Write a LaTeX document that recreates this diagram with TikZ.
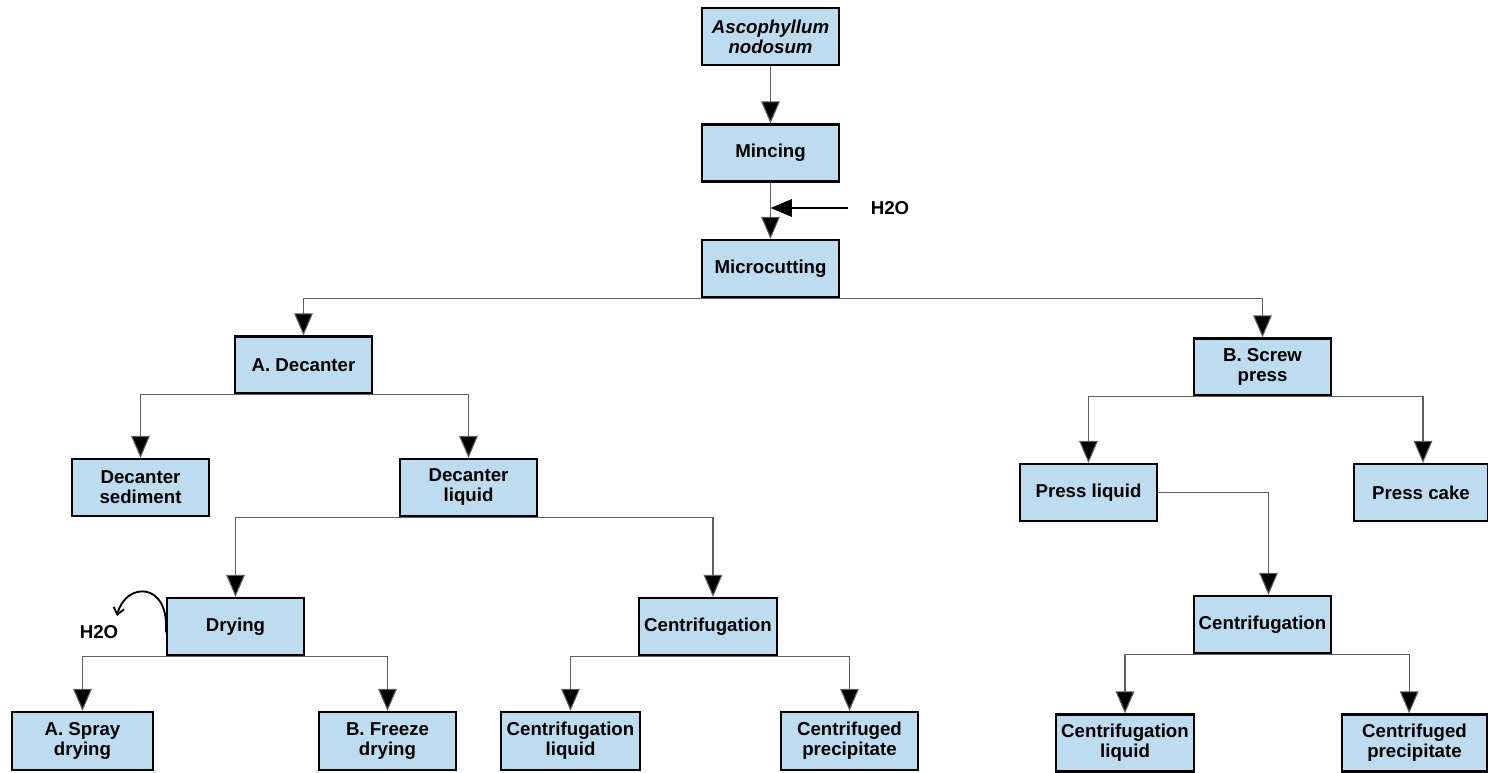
\documentclass[tikz,border=0pt]{standalone}
\usepackage{fontspec}
\setmainfont{Liberation Sans}
\usetikzlibrary{arrows.meta}
\definecolor{boxfill}{RGB}{189,220,240}
\definecolor{linkgray}{RGB}{95,95,95}
\tikzset{
  stage/.style={draw=black, line width=1.7pt, fill=boxfill, align=center,
    font=\bfseries\fontsize{14}{15}\selectfont, inner sep=0pt,
    minimum width=102.75pt, minimum height=42.75pt},
  link/.style={draw=linkgray, line width=0.8pt,
    -{Triangle[length=16.5pt,width=14pt,fill=black]}},
  feed/.style={draw=black, line width=1.5pt,
    -{Triangle[length=16pt,width=13pt]}},
  vapour/.style={draw=black, line width=1.4pt, -{Straight Barb[length=5pt,width=8pt]}},
  tag/.style={font=\bfseries\fontsize{14}{15}\selectfont, inner sep=0pt}
}
\begin{document}
\begin{tikzpicture}[x=0.75pt, y=-0.75pt]
\useasboundingbox (0,0) rectangle (1488,772);

% main line
\node[stage] (asc)   at (770.5,36.5) {\itshape Ascophyllum\\\itshape nodosum};
\node[stage] (mince) at (770.5,153)  {Mincing};
\node[stage] (micro) at (770.5,268.5) {Microcutting};

% A: decanter branch
\node[stage] (decA)  at (303.5,365)   {A. Decanter};
\node[stage] (sed)   at (140.5,487.5) {Decanter\\sediment};
\node[stage] (liq)   at (468.5,487.5) {Decanter\\liquid};
\node[stage] (dry)   at (235.5,626.5) {Drying};
\node[stage, minimum width=103.5pt] (cenL) at (708,626.5) {Centrifugation};
\node[stage, minimum width=105.75pt, minimum height=43.5pt] (spray) at (82.5,741) {A. Spray\\drying};
\node[stage, minimum height=43.5pt] (freeze) at (387.5,741) {B. Freeze\\drying};
\node[stage, minimum width=104.25pt, minimum height=43.5pt] (cliqL) at (570.5,741) {Centrifugation\\liquid};
\node[stage, minimum height=43.5pt] (cprecL) at (849.5,741) {Centrifuged\\precipitate};

% B: screw press branch
\node[stage] (screw) at (1262.5,367) {B. Screw\\press};
\node[stage] (pliq)  at (1088.5,492.5) {Press liquid};
\node[stage, minimum width=100.5pt] (cake) at (1421,492.5) {Press cake};
\node[stage] (cenR)  at (1262.5,624.5) {Centrifugation};
\node[stage, minimum width=103.5pt] (cliqR) at (1125,743) {Centrifugation\\liquid};
\node[stage, minimum width=108.75pt] (cprecR) at (1414.5,743) {Centrifuged\\precipitate};

% water inputs / outputs
\node[tag] (water)  at (890,208) {H2O};
\node[tag] (steam)  at (99,632)  {H2O};
\coordinate (steamtip) at (117,616);

% connectors
\draw[link] (asc) -- (mince);
\draw[link] (mince) -- (micro);
\draw[feed] ([xshift=-17pt]water.west) -- (water.west -| mince.south);

\draw[link] (micro.south) -| (decA.north);
\draw[link] (micro.south) -| (screw.north);

\draw[link] (decA.south) -| (sed.north);
\draw[link] (decA.south) -| (liq.north);
\draw[link] (liq.south) -| (dry.north);
\draw[link] (liq.south) -| ([xshift=3.75pt]cenL.north);
\draw[link] (dry.south) -| (spray.north);
\draw[link] (dry.south) -| (freeze.north);
\draw[link] (cenL.south) -| (cliqL.north);
\draw[link] (cenL.south) -| (cprecL.north);

\draw[link] (screw.south) -| (pliq.north);
\draw[link] (screw.south) -| ([xshift=1.5pt]cake.north);
\draw[link] (pliq.east) -| ([xshift=4.5pt]cenR.north);
\draw[link] (cenR.south) -| (cliqR.north);
\draw[link] (cenR.south) -| ([xshift=-4pt]cprecR.north);

\draw[vapour] ([yshift=-4.5pt]dry.west) .. controls +(4,-52) and +(8,-34) .. (steamtip);
\end{tikzpicture}
\end{document}
